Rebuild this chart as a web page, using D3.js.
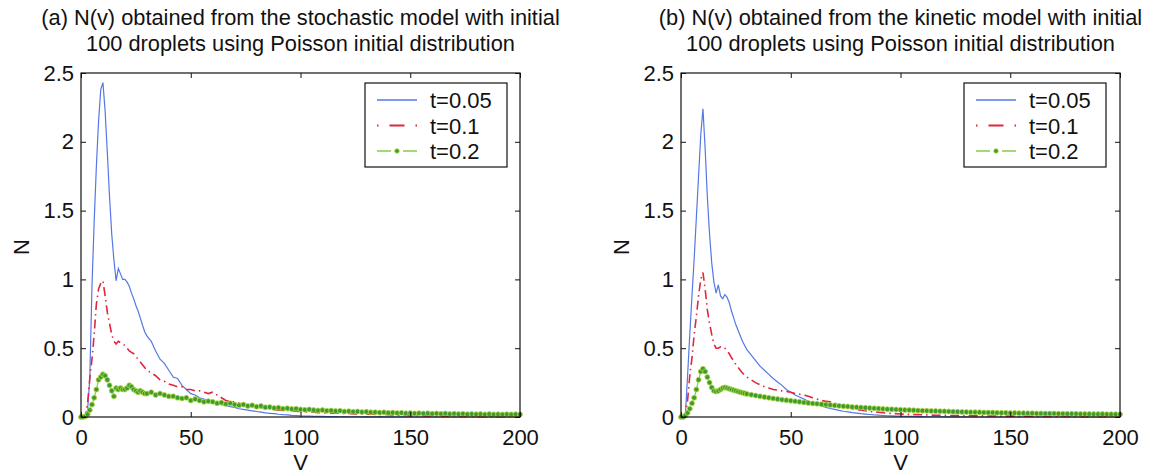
<!DOCTYPE html>
<html>
<head>
<meta charset="utf-8">
<script src="https://cdn.jsdelivr.net/npm/d3@7"></script>
<style>
  body { margin: 0; background: #fff; }
  text { font-family: "Liberation Sans", Arial, sans-serif; fill: #111; }
</style>
</head>
<body>
<div id="chart"></div>
<script>
'use strict';

// v grid shared by all series: 0..30 step 1, then 32..200 step 2
var vGrid = d3.range(0, 31).concat(d3.range(32, 201, 2));

var xTicks = [0, 50, 100, 150, 200];
var yTicks = [0, 0.5, 1, 1.5, 2, 2.5];
var legendLabels = ["t=0.05", "t=0.1", "t=0.2"];

var titleA = ["(a) N(v) obtained from the stochastic model with initial",
              "100 droplets using Poisson initial distribution"];
var titleB = ["(b) N(v) obtained from the kinetic model with initial",
              "100 droplets using Poisson initial distribution"];

// (a) stochastic model
var stochT005 = [
    0,0,0.01,0.05,0.28,0.95,1.42,1.82,2.15,2.38,
    2.43,2.22,1.92,1.6,1.33,1.14,0.99,1.08,1.04,1.0,
    1.0,0.98,0.95,0.9,0.86,0.81,0.77,0.72,0.67,0.62,0.59,
    0.55,0.48,0.42,0.39,0.34,0.29,0.28,0.23,0.2,0.17,
    0.16,0.14,0.13,0.12,0.11,0.1,0.09,0.085,0.075,0.07,
    0.06,0.055,0.05,0.045,0.04,0.035,0.03,0.027,0.024,0.02,
    0.017,0.015,0.012,0.01,0.008,0.007,0.006,0.005,0.004,0.004,
    0.003,0.003,0.003,0.002,0.003,0.002,0.002,0.002,0.001,0.002,
    0.001,0.001,0.002,0.001,0.001,0.001,0,0.001,0,0,
    0,0,0,0,0,0,0,0,0,0,
    0,0,0,0,0,0,0,0,0,0,
    0,0,0,0,0
];
var stochT01 = [
    0,0,0.01,0.1,0.28,0.42,0.6,0.82,0.93,0.97,
    0.99,0.88,0.76,0.68,0.6,0.55,0.53,0.55,0.54,0.53,
    0.52,0.5,0.48,0.47,0.46,0.44,0.42,0.4,0.38,0.36,0.34,
    0.32,0.3,0.27,0.26,0.24,0.23,0.22,0.22,0.2,0.2,
    0.19,0.19,0.18,0.17,0.18,0.16,0.14,0.12,0.11,0.11,
    0.1,0.09,0.085,0.08,0.075,0.07,0.065,0.06,0.055,0.05,
    0.05,0.048,0.045,0.042,0.04,0.038,0.036,0.034,0.032,0.03,
    0.03,0.028,0.03,0.027,0.025,0.026,0.023,0.022,0.022,0.02,
    0.022,0.019,0.018,0.02,0.017,0.015,0.014,0.012,0.01,0.01,
    0.009,0.009,0.008,0.008,0.007,0.007,0.006,0.006,0.005,0.005,
    0.005,0.004,0.004,0.004,0.003,0.003,0.003,0.003,0.002,0.002,
    0.002,0.002,0.002,0.001,0.001
];
var stochT02 = [
    0,0,0.005,0.02,0.05,0.09,0.14,0.2,0.27,0.29,
    0.31,0.3,0.27,0.23,0.19,0.15,0.21,0.2,0.21,0.2,
    0.2,0.21,0.23,0.22,0.2,0.19,0.18,0.19,0.18,0.17,0.17,
    0.18,0.16,0.17,0.16,0.15,0.15,0.14,0.135,0.14,0.12,
    0.13,0.12,0.11,0.115,0.11,0.1,0.105,0.095,0.1,0.09,
    0.085,0.09,0.08,0.085,0.075,0.08,0.07,0.072,0.065,0.068,
    0.06,0.063,0.058,0.06,0.055,0.052,0.055,0.05,0.048,0.05,
    0.045,0.047,0.043,0.045,0.04,0.042,0.038,0.04,0.036,0.038,
    0.034,0.035,0.032,0.034,0.03,0.032,0.029,0.03,0.027,0.029,
    0.026,0.028,0.025,0.027,0.024,0.026,0.023,0.025,0.022,0.024,
    0.021,0.023,0.02,0.022,0.02,0.021,0.019,0.021,0.019,0.02,
    0.018,0.02,0.019,0.02,0.019
];

// (b) kinetic model
var kinT005 = [
    0,0,0.02,0.3,0.6,0.88,1.15,1.45,1.75,2.05,
    2.24,1.95,1.6,1.33,1.12,0.98,0.9,0.96,0.88,0.86,
    0.89,0.87,0.83,0.77,0.72,0.67,0.63,0.59,0.55,0.52,0.49,
    0.45,0.41,0.37,0.34,0.31,0.28,0.255,0.23,0.2,0.18,
    0.16,0.145,0.13,0.115,0.1,0.09,0.08,0.07,0.062,0.055,
    0.048,0.042,0.037,0.032,0.028,0.024,0.021,0.018,0.015,0.013,
    0.011,0.009,0.008,0.007,0.006,0.005,0.004,0.004,0.003,0.003,
    0.002,0.002,0.002,0.002,0.001,0.001,0.001,0.001,0.001,0.001,
    0,0,0,0,0,0,0,0,0,0,
    0,0,0,0,0,0,0,0,0,0,
    0,0,0,0,0,0,0,0,0,0,
    0,0,0,0,0
];
var kinT01 = [
    0,0,0.02,0.12,0.3,0.43,0.6,0.73,0.88,1.0,
    1.05,0.93,0.78,0.68,0.6,0.53,0.5,0.5,0.51,0.51,
    0.5,0.48,0.46,0.43,0.41,0.38,0.36,0.34,0.32,0.305,0.29,
    0.27,0.25,0.235,0.22,0.21,0.2,0.195,0.19,0.185,0.18,
    0.17,0.165,0.16,0.15,0.14,0.13,0.12,0.115,0.11,0.1,
    0.09,0.08,0.07,0.06,0.055,0.05,0.045,0.04,0.037,0.034,
    0.031,0.028,0.026,0.024,0.022,0.02,0.019,0.018,0.017,0.016,
    0.015,0.014,0.013,0.013,0.012,0.011,0.011,0.01,0.01,0.009,
    0.009,0.008,0.008,0.008,0.007,0.007,0.007,0.006,0.006,0.006,
    0.006,0.005,0.005,0.005,0.005,0.005,0.004,0.004,0.004,0.004,
    0.004,0.004,0.004,0.003,0.003,0.003,0.003,0.003,0.003,0.003,
    0.003,0.003,0.003,0.003,0.003
];
var kinT02 = [
    0,0,0.01,0.03,0.06,0.1,0.14,0.2,0.27,0.33,
    0.35,0.33,0.29,0.25,0.215,0.19,0.185,0.19,0.2,0.21,
    0.215,0.21,0.205,0.2,0.195,0.19,0.185,0.18,0.176,0.172,0.168,
    0.162,0.156,0.15,0.145,0.14,0.135,0.13,0.126,0.122,0.118,
    0.114,0.11,0.106,0.102,0.099,0.096,0.093,0.09,0.087,0.084,
    0.081,0.078,0.076,0.073,0.071,0.069,0.067,0.065,0.063,0.061,
    0.059,0.057,0.056,0.054,0.053,0.051,0.05,0.049,0.047,0.046,
    0.045,0.044,0.043,0.042,0.041,0.04,0.039,0.038,0.037,0.036,
    0.035,0.035,0.034,0.033,0.032,0.032,0.031,0.03,0.03,0.029,
    0.029,0.028,0.028,0.027,0.027,0.026,0.026,0.025,0.025,0.025,
    0.024,0.024,0.023,0.023,0.023,0.022,0.022,0.022,0.021,0.021,
    0.021,0.02,0.02,0.02,0.02
];

var W = 1173, H = 474;
var plotTop = 73, plotBottom = 417;
var fs = 22;

var svg = d3.select("#chart").append("svg")
    .attr("width", W).attr("height", H);

var styles = [
    { color: "#5577e6", width: 1.2, dash: null, dots: false },
    { color: "#e2263c", width: 1.6, dash: "9,4,1.5,4", dots: false },
    { color: "#86cc44", width: 1.2, dash: "6,3", dots: true }
];

drawPanel(81, 520, titleA, [stochT005, stochT01, stochT02], 365);
drawPanel(681, 1120, titleB, [kinT005, kinT01, kinT02], 964);

function drawPanel(left, right, title, seriesList, legendX) {
    var g = svg.append("g");

    var x = d3.scaleLinear().domain([0, 200]).range([left, right]);
    var y = d3.scaleLinear().domain([0, 2.5]).range([plotBottom, plotTop]);

    // title
    var tx = (left + right) / 2;
    g.append("text").attr("x", tx).attr("y", 25).attr("text-anchor", "middle")
        .style("font-size", "21.8px").text(title[0]);
    g.append("text").attr("x", tx).attr("y", 51).attr("text-anchor", "middle")
        .style("font-size", "21.8px").text(title[1]);

    // series
    var line = d3.line().x(function(d) { return x(d[0]); }).y(function(d) { return y(d[1]); });
    seriesList.forEach(function(vals, i) {
        var st = styles[i];
        var pts = vGrid.map(function(v, j) { return [v, vals[j]]; });
        var path = g.append("path").datum(pts)
            .attr("d", line)
            .attr("fill", "none")
            .attr("stroke", st.color)
            .attr("stroke-width", st.width);
        if (st.dash) path.attr("stroke-dasharray", st.dash);
        if (st.dots) {
            g.append("g").selectAll("circle").data(pts).join("circle")
                .attr("cx", function(d) { return x(d[0]); })
                .attr("cy", function(d) { return y(d[1]); })
                .attr("r", 2.5)
                .attr("fill", "#3f9a30")
                .attr("stroke", "#b5dc48")
                .attr("stroke-width", 0.8);
        }
    });

    // axes, ticks pointing inward
    var xb = d3.axisBottom(x).tickValues(xTicks).tickSizeInner(-5).tickSizeOuter(0).tickPadding(12);
    var xt = d3.axisTop(x).tickValues(xTicks).tickSizeInner(-5).tickSizeOuter(0).tickFormat("");
    var yl = d3.axisLeft(y).tickValues(yTicks).tickSizeInner(-5).tickSizeOuter(0).tickPadding(7)
        .tickFormat(d3.format("~g"));
    var yr = d3.axisRight(y).tickValues(yTicks).tickSizeInner(-5).tickSizeOuter(0).tickFormat("");

    [[xb, "translate(0," + plotBottom + ")"], [xt, "translate(0," + plotTop + ")"],
     [yl, "translate(" + left + ",0)"], [yr, "translate(" + right + ",0)"]].forEach(function(a) {
        var ag = g.append("g").attr("transform", a[1]).call(a[0]);
        ag.select(".domain").remove();
        ag.selectAll("line").attr("stroke", "#111");
        ag.selectAll("text").style("font-size", fs + "px")
            .style("font-family", "'Liberation Sans', Arial, sans-serif").attr("fill", "#111");
    });

    g.append("rect").attr("x", left).attr("y", plotTop)
        .attr("width", right - left).attr("height", plotBottom - plotTop)
        .attr("fill", "none").attr("stroke", "#111").attr("stroke-width", 1.2);

    // axis labels
    g.append("text").attr("x", (left + right) / 2).attr("y", 470).attr("text-anchor", "middle")
        .style("font-size", fs + "px").text("V");
    g.append("text").attr("transform", "translate(" + (left - 52) + "," + ((plotTop + plotBottom) / 2 + 2) + ") rotate(-90)")
        .attr("text-anchor", "middle").style("font-size", fs + "px").text("N");

    // legend
    var lg = g.append("g").attr("transform", "translate(" + legendX + ",83)");
    lg.append("rect").attr("width", 142).attr("height", 84)
        .attr("fill", "#fff").attr("stroke", "#111").attr("stroke-width", 1.2);
    legendLabels.forEach(function(lab, i) {
        var st = styles[i];
        var ry = 17 + i * 25.5;
        var l = lg.append("line").attr("x1", 12).attr("x2", 52).attr("y1", ry).attr("y2", ry)
            .attr("stroke", st.color).attr("stroke-width", st.width + 0.4);
        if (i === 1) l.attr("stroke-dasharray", "1.5,11,15,11");
        if (i === 2) l.attr("stroke-dasharray", "14,12");
        if (st.dots) {
            lg.append("circle").attr("cx", 32).attr("cy", ry).attr("r", 2.3)
                .attr("fill", "#3f9a30").attr("stroke", "#b5dc48").attr("stroke-width", 0.8);
        }
        lg.append("text").attr("x", 65).attr("y", ry + 8).style("font-size", fs + "px").text(lab);
    });
}
</script>
</body>
</html>
